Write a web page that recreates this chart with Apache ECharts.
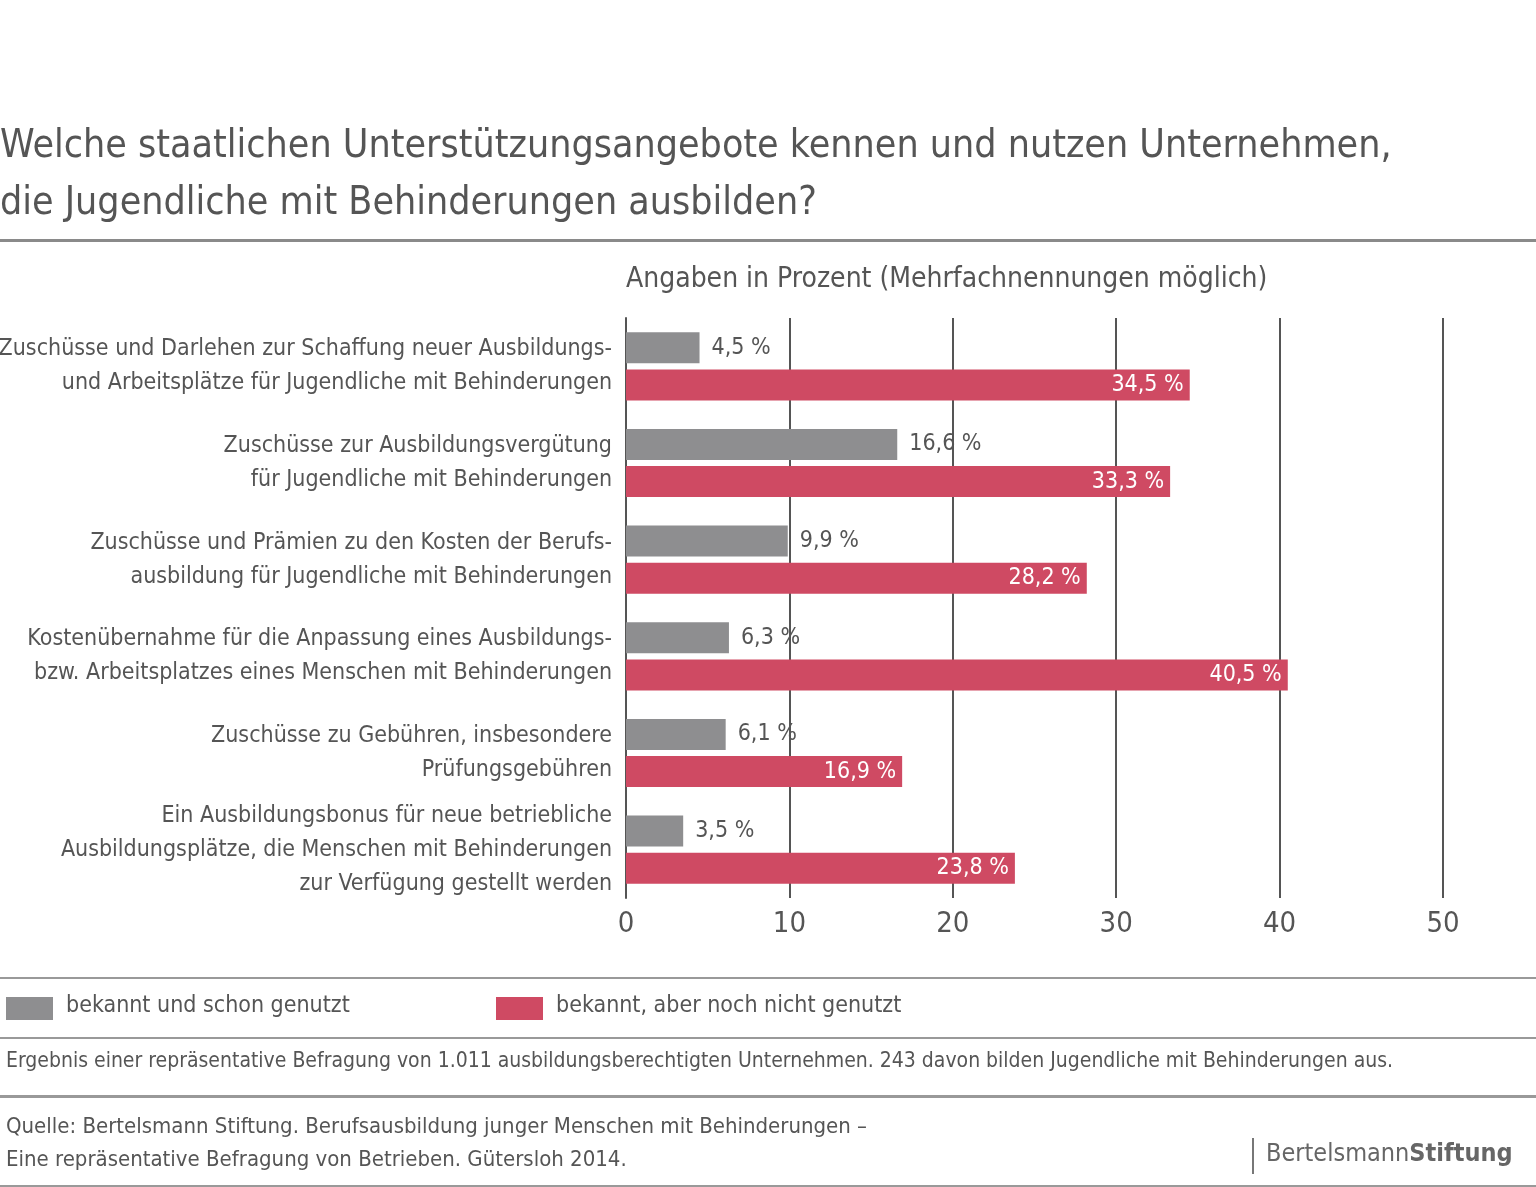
<!DOCTYPE html>
<html><head><meta charset="utf-8">
<script src="https://cdn.jsdelivr.net/npm/echarts@6/dist/echarts.min.js"></script>
<style>html,body{margin:0;padding:0;background:#fff}#c{width:1536px;height:1187px}</style>
</head><body><div id="c"></div>
<script>
var categories = [
  'Zuschüsse und Darlehen zur Schaffung neuer Ausbildungs-\nund Arbeitsplätze für Jugendliche mit Behinderungen',
  'Zuschüsse zur Ausbildungsvergütung\nfür Jugendliche mit Behinderungen',
  'Zuschüsse und Prämien zu den Kosten der Berufs-\nausbildung für Jugendliche mit Behinderungen',
  'Kostenübernahme für die Anpassung eines Ausbildungs-\nbzw. Arbeitsplatzes eines Menschen mit Behinderungen',
  'Zuschüsse zu Gebühren, insbesondere\nPrüfungsgebühren',
  'Ein Ausbildungsbonus für neue betriebliche\nAusbildungsplätze, die Menschen mit Behinderungen\nzur Verfügung gestellt werden'
];
var usedValues = [4.5, 16.6, 9.9, 6.3, 6.1, 3.5];
var notUsedValues = [34.5, 33.3, 28.2, 40.5, 16.9, 23.8];
var seriesNames = ['bekannt und schon genutzt', 'bekannt, aber noch nicht genutzt'];

var F = '"DejaVu Sans Condensed", Roboto, sans-serif';
var TXT = '#555';
var GRAY = '#8e8e90', RED = '#cf4a63';
function fmt(p) { return String(p.value).replace('.', ',') + ' %'; }

var chart = echarts.init(document.getElementById('c'));
chart.setOption({
  animation: false,
  textStyle: { fontFamily: F },
  grid: { left: 626, right: 93, top: 318, bottom: 289, containLabel: false, outerBoundsMode: 'none' },
  xAxis: {
    type: 'value', min: 0, max: 50, interval: 10,
    axisLine: { show: false }, axisTick: { show: false },
    splitLine: { lineStyle: { color: '#555', width: 2 } },
    axisLabel: { color: TXT, fontSize: 29, fontFamily: F, margin: 12 }
  },
  yAxis: {
    type: 'category', inverse: true, data: categories,
    axisLine: { show: true, lineStyle: { color: '#555', width: 2 } },
    axisTick: { show: false },
    axisLabel: { color: TXT, fontSize: 23, fontFamily: F, lineHeight: 34, align: 'right', margin: 14 }
  },
  series: [
    { name: seriesNames[0], type: 'bar', data: usedValues, barWidth: 31, barGap: '20%',
      itemStyle: { color: GRAY },
      label: { show: true, position: 'right', distance: 12, color: TXT, fontSize: 23, fontFamily: F, formatter: fmt } },
    { name: seriesNames[1], type: 'bar', data: notUsedValues, barWidth: 31,
      itemStyle: { color: RED },
      label: { show: true, position: 'insideRight', distance: 6, color: '#fff', fontSize: 23, fontFamily: F, formatter: fmt } }
  ],
  graphic: [
    { type: 'text', left: 0, top: 118, style: { text: 'Welche staatlichen Unterstützungsangebote kennen und nutzen Unternehmen,\ndie Jugendliche mit Behinderungen ausbilden?', font: '39px ' + F, fill: TXT, lineHeight: 57 } },
    { type: 'rect', shape: { x: 0, y: 239, width: 1536, height: 3 }, style: { fill: '#8a8a8a' } },
    { type: 'text', left: 626, top: 266, style: { text: 'Angaben in Prozent (Mehrfachnennungen möglich)', font: '28px ' + F, fill: TXT } },
    { type: 'rect', shape: { x: 0, y: 977, width: 1536, height: 2 }, style: { fill: '#999' } },
    { type: 'rect', shape: { x: 6, y: 997, width: 47, height: 23 }, style: { fill: GRAY } },
    { type: 'text', left: 66, top: 995, style: { text: seriesNames[0], font: '23px ' + F, fill: TXT } },
    { type: 'rect', shape: { x: 496, y: 997, width: 47, height: 23 }, style: { fill: RED } },
    { type: 'text', left: 556, top: 995, style: { text: seriesNames[1], font: '23px ' + F, fill: TXT } },
    { type: 'rect', shape: { x: 0, y: 1037, width: 1536, height: 2 }, style: { fill: '#999' } },
    { type: 'text', left: 6, top: 1051, style: { text: 'Ergebnis einer repräsentative Befragung von 1.011 ausbildungsberechtigten Unternehmen. 243 davon bilden Jugendliche mit Behinderungen aus.', font: '21px ' + F, fill: TXT } },
    { type: 'rect', shape: { x: 0, y: 1095, width: 1536, height: 3 }, style: { fill: '#999' } },
    { type: 'text', left: 6, top: 1111, style: { text: 'Quelle: Bertelsmann Stiftung. Berufsausbildung junger Menschen mit Behinderungen –\nEine repräsentative Befragung von Betrieben. Gütersloh 2014.', font: '22px ' + F, fill: TXT, lineHeight: 33 } },
    { type: 'rect', shape: { x: 1252, y: 1138, width: 2, height: 36 }, style: { fill: '#777' } },
    { type: 'text', left: 1266, top: 1142, style: { text: '{a|Bertelsmann}{b|Stiftung}', rich: { a: { font: '25px ' + F, fill: '#666' }, b: { font: 'bold 25px ' + F, fill: '#666' } } } },
    { type: 'rect', shape: { x: 0, y: 1185, width: 1536, height: 2 }, style: { fill: '#999' } }
  ]
});
</script></body></html>
